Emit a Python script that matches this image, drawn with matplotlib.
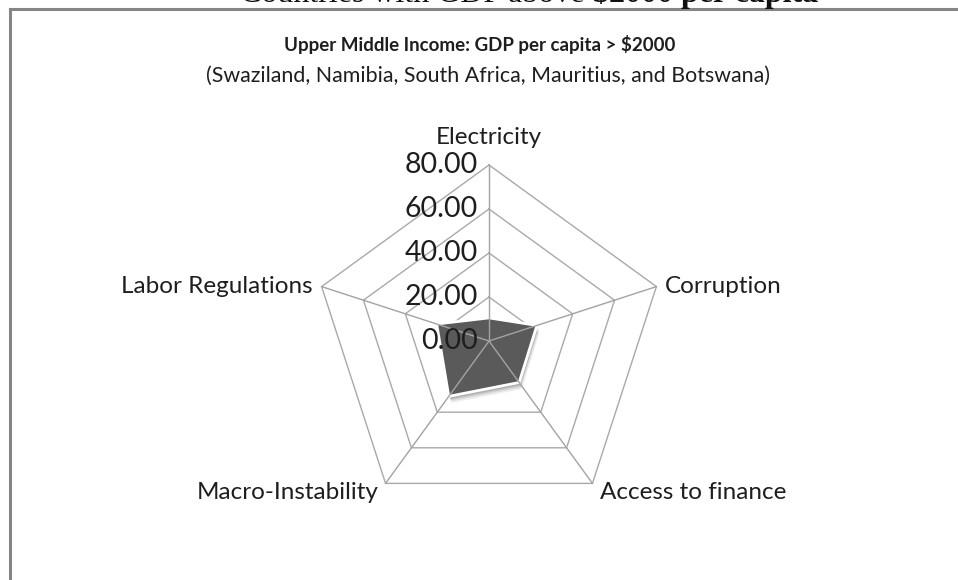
import numpy as np
import matplotlib
matplotlib.use("Agg")
import matplotlib.pyplot as plt
from matplotlib.lines import Line2D

# Radar data: share of firms naming each obstacle (%)
categories = ["Electricity", "Corruption", "Access to finance",
              "Macro-Instability", "Labor Regulations"]
values = [10.5, 22.9, 23.3, 31.1, 25.0]
ring_levels = [0, 20, 40, 60, 80]
ring_labels = ["0.00", "20.00", "40.00", "60.00", "80.00"]
r_max = 80

W, H = 958, 580
fig = plt.figure(figsize=(W / 100, H / 100), dpi=100)
fig.patch.set_facecolor("white")

SANS = ["Lato", "DejaVu Sans"]
SERIF = ["Liberation Serif", "DejaVu Serif"]
INK = "#1e1e1e"

# Chart area: one data unit = 2.2 px, radar centre at (489, 341) px from top-left
scale = 2.2
cx, cy = 489, H - 341
ax = fig.add_axes([0, 0, 1, 1])
ax.set_xlim(-cx / scale, (W - cx) / scale)
ax.set_ylim(-cy / scale, (H - cy) / scale)
ax.axis("off")

n = len(categories)
theta = np.arange(n) * 2 * np.pi / n  # clockwise from top


def to_xy(r, th):
    r = np.asarray(r, dtype=float)
    return r * np.sin(th), r * np.cos(th)


closed = np.append(theta, theta[0])

# Pentagon rings
for lvl in ring_levels[1:]:
    x, y = to_xy(np.full(n + 1, lvl), closed)
    ax.plot(x, y, color="#a9a9a9", lw=1.0, zorder=1)

# Data polygon with soft drop shadow and white rim
vals_closed = np.append(values, values[0])
px, py = to_xy(vals_closed, closed)
for k, a in zip([3.2, 2.5, 1.8, 1.2], [0.06, 0.08, 0.10, 0.12]):
    ax.fill(px + k * 0.4, py - k * 0.95, color="#000000", alpha=a, lw=0, zorder=2)
ax.fill(px, py, facecolor="#5a5a5a", edgecolor="white", lw=2.0, zorder=3)

# Spokes
for th in theta:
    x, y = to_xy([0, r_max], th)
    ax.plot(x, y, color="#a3a3a3", lw=1.0, zorder=4)

# Value labels along the top spoke
for lvl, lab in zip(ring_levels, ring_labels):
    ax.text(-5.0, lvl, lab, ha="right", va="center", fontsize=20.5,
            color=INK, family=SANS, zorder=5)

# Category labels around the outer ring
ex, ey = to_xy(r_max, theta)
cat_fs = 17.5
ax.text(ex[0], ey[0] + 12.3, categories[0], ha="center", va="center",
        fontsize=cat_fs, color=INK, family=SANS)
ax.text(ex[1] + 4.0, ey[1], categories[1], ha="left", va="center",
        fontsize=cat_fs, color=INK, family=SANS)
ax.text(ex[2] + 3.4, ey[2] - 4.0, categories[2], ha="left", va="center",
        fontsize=cat_fs, color=INK, family=SANS)
ax.text(ex[3] - 3.0, ey[3] - 4.0, categories[3], ha="right", va="center",
        fontsize=cat_fs, color=INK, family=SANS)
ax.text(ex[4] - 3.9, ey[4], categories[4], ha="right", va="center",
        fontsize=cat_fs, color=INK, family=SANS)

# Titles
fig.text(480 / W, 1 - 45 / H, "Upper Middle Income: GDP per capita > $2000",
         ha="center", va="center", fontsize=13.5, fontweight="bold",
         color=INK, family=SANS)
fig.text(488 / W, 1 - 76 / H,
         "(Swaziland, Namibia, South Africa, Mauritius, and Botswana)",
         ha="center", va="center", fontsize=15.4, color=INK, family=SANS)

# Page heading running off the top edge
fig.text(593 / W, 1 - 2 / H, "Countries with GDP above ", ha="right",
         va="baseline", fontsize=23, color="#111111", family=SERIF)
fig.text(593 / W, 1 - 2 / H, "$2000 per capita", ha="left",
         va="baseline", fontsize=23, fontweight="bold", color="#111111",
         family=SERIF)

# Chart frame (top and left edges)
frame = "#858585"
fig.add_artist(Line2D([10 / W, 1.0], [1 - 9 / H, 1 - 9 / H],
                      transform=fig.transFigure, color=frame, lw=2.2))
fig.add_artist(Line2D([10 / W, 10 / W], [0.0, 1 - 9 / H],
                      transform=fig.transFigure, color=frame, lw=2.2))

fig.savefig("out.png", dpi=100, facecolor="white")
